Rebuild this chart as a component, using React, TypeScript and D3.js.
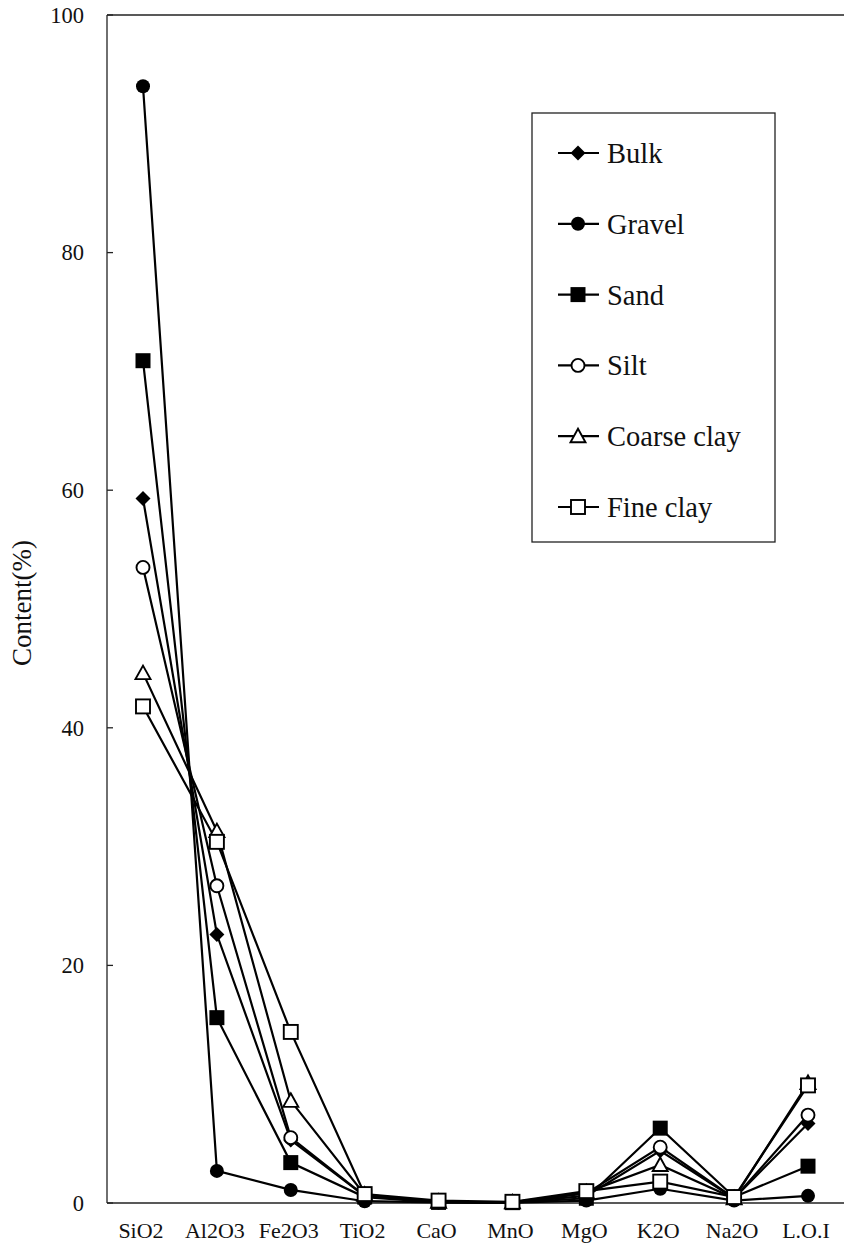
import React from "react";
import * as d3 from "d3";

// Oxide categories along the x axis
const categories = ["SiO2", "Al2O3", "Fe2O3", "TiO2", "CaO", "MnO", "MgO", "K2O", "Na2O", "L.O.I"];

// Content (%) per size fraction, one value per category
const bulk = [59.3, 22.6, 5.3, 0.6, 0.1, 0.05, 0.6, 4.4, 0.4, 6.7];
const gravel = [94.0, 2.7, 1.1, 0.15, 0.05, 0.02, 0.2, 1.2, 0.2, 0.6];
const sand = [70.9, 15.6, 3.4, 0.5, 0.05, 0.03, 0.4, 6.3, 0.5, 3.1];
const silt = [53.5, 26.7, 5.5, 0.6, 0.1, 0.05, 0.8, 4.7, 0.4, 7.4];
const coarseClay = [44.6, 31.3, 8.6, 0.7, 0.1, 0.05, 0.9, 3.2, 0.4, 10.1];
const fineClay = [41.8, 30.4, 14.4, 0.75, 0.2, 0.1, 1.0, 1.8, 0.5, 9.9];

const yTicks = [0, 20, 40, 60, 80, 100];

type Marker = "diamond" | "circle" | "square" | "openCircle" | "triangle" | "openSquare";

const series: { name: string; values: number[]; marker: Marker }[] = [
  { name: "Bulk", values: bulk, marker: "diamond" },
  { name: "Gravel", values: gravel, marker: "circle" },
  { name: "Sand", values: sand, marker: "square" },
  { name: "Silt", values: silt, marker: "openCircle" },
  { name: "Coarse clay", values: coarseClay, marker: "triangle" },
  { name: "Fine clay", values: fineClay, marker: "openSquare" },
];

const W = 844;
const H = 1251;
const FONT = "'Liberation Serif', 'DejaVu Serif', serif";

const axisLeft = 107;
const plotTop = 15;
const plotBottom = 1203;

const x = d3.scalePoint<string>().domain(categories).range([143, 808]);
const y = d3.scaleLinear().domain([0, 100]).range([plotBottom, plotTop]);

function MarkerShape({ kind, cx, cy }: { kind: Marker; cx: number; cy: number }) {
  const sw = 1.9;
  switch (kind) {
    case "diamond":
      return (
        <path
          d={`M${cx},${cy - 7.5}L${cx + 7.5},${cy}L${cx},${cy + 7.5}L${cx - 7.5},${cy}Z`}
          fill="#000"
        />
      );
    case "circle":
      return <circle cx={cx} cy={cy} r={7} fill="#000" />;
    case "square":
      return <rect x={cx - 7.5} y={cy - 7.5} width={15} height={15} fill="#000" />;
    case "openCircle":
      return <circle cx={cx} cy={cy} r={6.5} fill="#fff" stroke="#000" strokeWidth={sw} />;
    case "triangle":
      return (
        <path
          d={`M${cx},${cy - 7.5}L${cx + 7.5},${cy + 6}L${cx - 7.5},${cy + 6}Z`}
          fill="#fff"
          stroke="#000"
          strokeWidth={sw}
          strokeLinejoin="miter"
        />
      );
    case "openSquare":
      return (
        <rect x={cx - 7} y={cy - 7} width={14} height={14} fill="#fff" stroke="#000" strokeWidth={sw} />
      );
  }
}

export default function App() {
  const line = d3
    .line<number>()
    .x((_, i) => x(categories[i]) as number)
    .y((v) => y(v));

  const legendX = 532;
  const legendY = 113;
  const legendW = 243;
  const legendH = 429;
  const legendRow0 = 153;
  const legendStep = 70.8;

  return (
    <svg
      width={W}
      height={H}
      style={{ position: "absolute", left: 0, top: 0, background: "#fff", fontFamily: FONT }}
    >
      <rect x={0} y={0} width={W} height={H} fill="#fff" />

      {/* frame: left axis, top edge, baseline */}
      <line x1={axisLeft} y1={plotTop} x2={W} y2={plotTop} stroke="#222" strokeWidth={1.3} />
      <line x1={axisLeft} y1={plotTop} x2={axisLeft} y2={plotBottom} stroke="#222" strokeWidth={1.3} />
      <line x1={axisLeft} y1={plotBottom} x2={W} y2={plotBottom} stroke="#222" strokeWidth={1.3} />

      {/* y ticks and labels */}
      {yTicks.map((t) => (
        <g key={t}>
          <line x1={axisLeft} y1={y(t)} x2={axisLeft + 6} y2={y(t)} stroke="#222" strokeWidth={1.3} />
          <text x={84} y={y(t)} dy="0.35em" textAnchor="end" fontSize={22.5} fill="#111" style={{ fontFamily: FONT }}>
            {t}
          </text>
        </g>
      ))}

      {/* y axis title */}
      <text
        transform={`translate(31,603) rotate(-90)`}
        textAnchor="middle"
        fontSize={27}
        fill="#111"
        style={{ fontFamily: FONT }}
      >
        Content(%)
      </text>

      {/* x labels */}
      {categories.map((c) => (
        <text
          key={c}
          x={(x(c) as number) - 2}
          y={1238}
          textAnchor="middle"
          fontSize={22}
          fill="#111"
          style={{ fontFamily: FONT }}
        >
          {c}
        </text>
      ))}

      {/* series lines */}
      {series.map((s) => (
        <path key={s.name} d={line(s.values) || ""} fill="none" stroke="#000" strokeWidth={2.2} />
      ))}

      {/* series markers */}
      {series.map((s) => (
        <g key={s.name + "-m"}>
          {s.values.map((v, i) => (
            <MarkerShape key={i} kind={s.marker} cx={x(categories[i]) as number} cy={y(v)} />
          ))}
        </g>
      ))}

      {/* legend */}
      <rect x={legendX} y={legendY} width={legendW} height={legendH} fill="#fff" stroke="#222" strokeWidth={1.3} />
      {series.map((s, i) => {
        const ly = legendRow0 + i * legendStep;
        return (
          <g key={s.name + "-leg"}>
            <line x1={558} y1={ly} x2={599} y2={ly} stroke="#000" strokeWidth={2.2} />
            <MarkerShape kind={s.marker} cx={578} cy={ly} />
            <text x={607} y={ly} dy="0.35em" fontSize={28.5} fill="#111" style={{ fontFamily: FONT }}>
              {s.name}
            </text>
          </g>
        );
      })}
    </svg>
  );
}
